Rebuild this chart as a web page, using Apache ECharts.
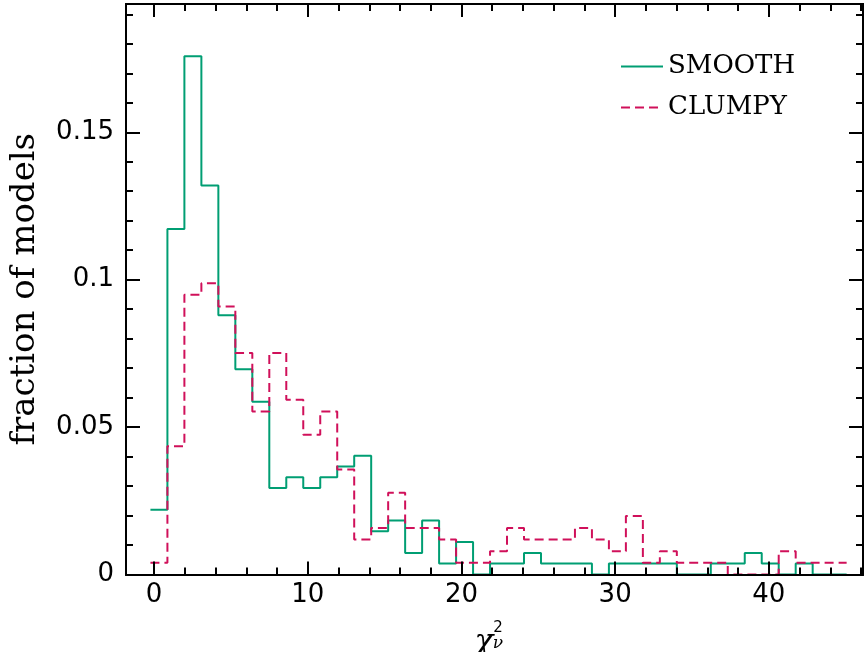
<!DOCTYPE html>
<html>
<head>
<meta charset="utf-8">
<script src="https://cdn.jsdelivr.net/npm/echarts@6/dist/echarts.min.js"></script>
<style>
  html, body { margin: 0; padding: 0; background: #ffffff; }
  #chart { width: 864px; height: 652px; }
</style>
</head>
<body>
<div id="chart"></div>
<script>
// Histogram binning of reduced chi-square (bin i spans binStart + i*binWidth .. +binWidth)
const binStart = -0.24;
const binWidth = 1.105;

// Fraction of models per bin
const smoothFractions = [
  0.0220, 0.1172, 0.1758, 0.1319, 0.0879, 0.0696, 0.0586, 0.0293, 0.0330, 0.0293,
  0.0330, 0.0366, 0.0403, 0.0147, 0.0183, 0.0073, 0.0183, 0.0037, 0.0110, 0.0000,
  0.0037, 0.0037, 0.0073, 0.0037, 0.0037, 0.0037, 0.0000, 0.0037, 0.0037, 0.0037,
  0.0037, 0.0000, 0.0000, 0.0037, 0.0037, 0.0073, 0.0037, 0.0000, 0.0037, 0.0000,
  0.0000
];
const clumpyFractions = [
  0.0040, 0.0435, 0.0949, 0.0988, 0.0909, 0.0751, 0.0553, 0.0751, 0.0593, 0.0474,
  0.0553, 0.0356, 0.0119, 0.0158, 0.0277, 0.0158, 0.0158, 0.0119, 0.0040, 0.0040,
  0.0079, 0.0158, 0.0119, 0.0119, 0.0119, 0.0158, 0.0119, 0.0079, 0.0198, 0.0040,
  0.0079, 0.0040, 0.0040, 0.0040, 0.0000, 0.0000, 0.0000, 0.0079, 0.0040, 0.0040,
  0.0040
];
const seriesNames = ['SMOOTH', 'CLUMPY'];

// Tick positions
const xMajorTicks = [0, 10, 20, 30, 40];
const xMinorTicks = [2, 4, 6, 8, 12, 14, 16, 18, 22, 24, 26, 28, 32, 34, 36, 38, 42, 44, 46];
const yMajorTicks = [0, 0.05, 0.1, 0.15];
const yMinorTicks = [0.01, 0.02, 0.03, 0.04, 0.06, 0.07, 0.08, 0.09, 0.11, 0.12, 0.13, 0.14, 0.16, 0.17, 0.18, 0.19];

const xLimits = [-1.83, 46.13];
const yLimits = [0, 0.1935];

const GREEN = '#009E73';
const RED = '#D0105A';

// Turn per-bin values into the corner points of a step outline
function stepPoints(values) {
  const pts = [];
  values.forEach((v, i) => {
    const left = binStart + i * binWidth;
    pts.push([left, v], [left + binWidth, v]);
  });
  return pts;
}

const frameLine = { show: true, onZero: false, lineStyle: { color: '#000', width: 2 } };

function xAxisDef(position, ticks, len, labels) {
  return {
    type: 'value', position: position, min: xLimits[0], max: xLimits[1], z: 5,
    axisLine: labels !== null ? frameLine : { show: false },
    splitLine: { show: false },
    axisTick: { show: true, inside: true, length: len, customValues: ticks,
                lineStyle: { color: '#000', width: 2 } },
    axisLabel: labels ? {
      show: true, customValues: ticks, margin: 8,
      fontFamily: 'DejaVu Sans', fontSize: 26, color: '#000'
    } : { show: false }
  };
}
function yAxisDef(position, ticks, len, labels) {
  return {
    type: 'value', position: position, min: yLimits[0], max: yLimits[1], z: 5,
    axisLine: labels !== null ? frameLine : { show: false },
    splitLine: { show: false },
    axisTick: { show: true, inside: true, length: len, customValues: ticks,
                lineStyle: { color: '#000', width: 2 } },
    axisLabel: labels ? {
      show: true, customValues: ticks, margin: 12,
      fontFamily: 'DejaVu Sans', fontSize: 26, color: '#000'
    } : { show: false }
  };
}

const chart = echarts.init(document.getElementById('chart'), null, { renderer: 'canvas' });

const yMain = yAxisDef('left', yMajorTicks, 14, true);
yMain.name = 'fraction of models';
yMain.nameLocation = 'middle';
yMain.nameGap = 84;
yMain.nameTextStyle = { fontFamily: 'DejaVu Serif', fontSize: 34, color: '#000' };

chart.setOption({
  animation: false,
  backgroundColor: '#ffffff',
  grid: { left: 121.7, right: 1, top: 4, bottom: 77.5, containLabel: false },
  xAxis: [
    xAxisDef('bottom', xMajorTicks, 13, true),
    xAxisDef('bottom', xMinorTicks, 7, false),
    xAxisDef('top', xMajorTicks, 13, false),
    xAxisDef('top', xMinorTicks, 7, false)
  ],
  yAxis: [
    yMain,
    yAxisDef('left', yMinorTicks, 7, false),
    yAxisDef('right', yMajorTicks, 14, false),
    yAxisDef('right', yMinorTicks, 7, false)
  ],
  legend: {
    orient: 'vertical', left: 620, top: 52, padding: 0,
    itemWidth: 42, itemHeight: 20, itemGap: 12,
    itemStyle: { opacity: 0 },
    textStyle: { fontFamily: 'DejaVu Serif', fontSize: 26, color: '#000', lineHeight: 29 },
    data: seriesNames
  },
  graphic: [
    { type: 'text', x: 484, y: 643, z: 10,
      style: { text: 'χ', font: 'italic 31px "DejaVu Serif"', fill: '#000',
               textAlign: 'center', textVerticalAlign: 'middle' } },
    { type: 'text', x: 498, y: 628, z: 10,
      style: { text: '2', font: '15px "DejaVu Sans"', fill: '#000',
               textAlign: 'center', textVerticalAlign: 'middle' } },
    { type: 'text', x: 498, y: 644, z: 10,
      style: { text: 'ν', font: 'italic 17px "DejaVu Serif"', fill: '#000',
               textAlign: 'center', textVerticalAlign: 'middle' } }
  ],
  series: [
    {
      name: seriesNames[0], type: 'line', data: stepPoints(smoothFractions),
      symbol: 'none', z: 2, clip: true,
      lineStyle: { color: GREEN, width: 2 }, itemStyle: { color: GREEN }
    },
    {
      name: seriesNames[1], type: 'line', data: stepPoints(clumpyFractions),
      symbol: 'none', z: 3, clip: true,
      lineStyle: { color: RED, width: 2, type: [9, 5] }, itemStyle: { color: RED }
    }
  ]
});
</script>
</body>
</html>
